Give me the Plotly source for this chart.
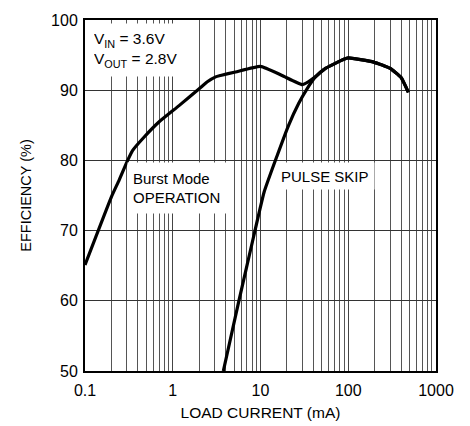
import plotly.graph_objects as go

# ---- data ----
burst_current = [0.1, 0.2, 0.245, 0.306, 0.348, 0.47, 0.70, 1.18, 2.0, 2.48, 3.08, 3.5, 5.2, 10,
                 17.6, 29.8, 35, 42.2, 55, 89, 100, 195, 300, 400, 484]
burst_eff = [65.1, 74.8, 77.2, 80.0, 81.4, 83.3, 85.5, 87.8, 90.2, 91.2, 91.9, 92.1, 92.6, 93.4,
             92.1, 90.8, 91.2, 91.9, 93.1, 94.4, 94.6, 94.0, 93.1, 91.8, 89.7]

pulse_current = [3.77, 5.67, 8.4, 11, 15.5, 20.9, 27.2, 33.9, 42.2, 55, 89, 100, 195, 300, 400, 484]
pulse_eff = [50, 60, 69.3, 75.5, 80.7, 85.0, 88.1, 90.2, 91.9, 93.1, 94.4, 94.6, 94.0, 93.1, 91.8, 89.7]

x_tickvals = [0.1, 1, 10, 100, 1000]
x_ticktext = ["0.1", "1", "10", "100", "1000"]
x_minor_vals = [m * 10 ** e for e in range(-1, 3) for m in range(2, 10)]
y_tickvals = [50, 60, 70, 80, 90, 100]

FONT = "Liberation Sans, Arial, Helvetica, sans-serif"

fig = go.Figure()
fig.add_trace(go.Scatter(x=burst_current, y=burst_eff, mode="lines",
                         line=dict(color="black", width=3.2, shape="spline", smoothing=0.4),
                         showlegend=False))
fig.add_trace(go.Scatter(x=pulse_current, y=pulse_eff, mode="lines",
                         line=dict(color="black", width=3.2, shape="spline", smoothing=0.4),
                         showlegend=False))

# page body adds an 8px offset, so margins are shifted to keep the plot area in place
fig.update_layout(
    width=470, height=426,
    margin=dict(l=77, r=42, t=12, b=63),
    paper_bgcolor="white", plot_bgcolor="white",
    font=dict(family=FONT, size=16, color="black"),
    xaxis=dict(type="log", range=[-1, 3], tickvals=x_tickvals, ticktext=x_ticktext,
               showgrid=True, gridcolor="#444", gridwidth=1,
               minor=dict(tickvals=x_minor_vals, showgrid=True, gridcolor="#555",
                          gridwidth=1, ticks=""),
               showline=True, linecolor="black", linewidth=2, mirror=True,
               ticks="", tickfont=dict(size=16), automargin=False, ticklabelstandoff=4,
               title=dict(text="LOAD CURRENT (mA)", font=dict(size=15.5), standoff=9),
               zeroline=False),
    yaxis=dict(range=[50, 100], tickvals=y_tickvals,
               showgrid=True, gridcolor="#333", gridwidth=1,
               showline=True, linecolor="black", linewidth=2, mirror=True,
               ticks="", tickfont=dict(size=16), automargin=False, ticklabelstandoff=2,
               title=dict(text="EFFICIENCY (%)", font=dict(size=14.5), standoff=16),
               zeroline=False),
)

fig.add_annotation(xref="paper", yref="paper", x=0.003, y=0.991, xanchor="left", yanchor="top",
                   text="V<sub>IN</sub> = 3.6V<br>V<sub>OUT</sub> = 2.8V", showarrow=False,
                   align="left", bgcolor="white", borderpad=7, width=91, height=38,
                   font=dict(size=15.5))
fig.add_annotation(xref="paper", yref="paper", x=0.1197, y=0.5954, xanchor="left", yanchor="top",
                   text="Burst Mode<br>OPERATION", showarrow=False,
                   align="left", bgcolor="white", borderpad=5, width=88, height=40,
                   font=dict(size=15))
fig.add_annotation(xref="paper", yref="paper", x=0.547, y=0.5954, xanchor="left", yanchor="top",
                   text="PULSE SKIP", showarrow=False,
                   align="left", bgcolor="white", borderpad=3, width=90, height=20,
                   font=dict(size=15))

fig.write_html("out.html")
